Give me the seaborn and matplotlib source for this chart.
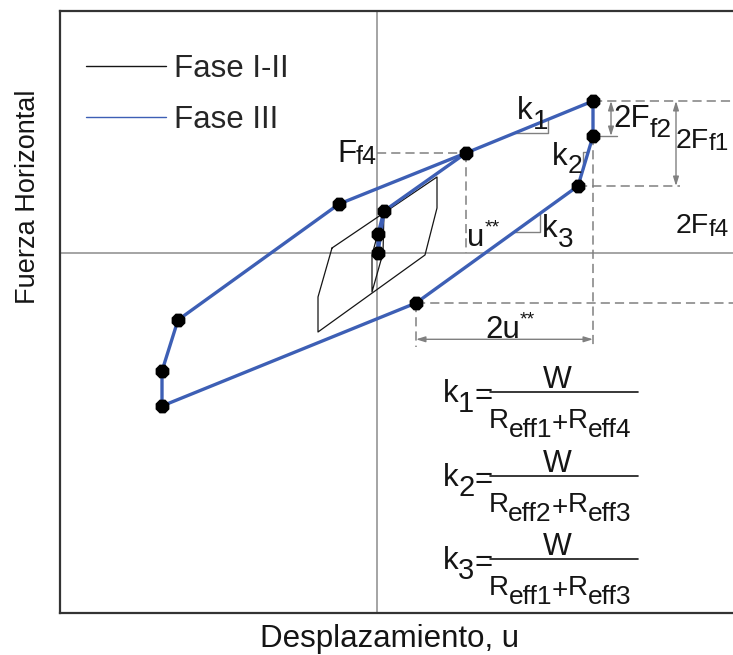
import matplotlib
matplotlib.use("Agg")
import matplotlib.pyplot as plt
import matplotlib.transforms as mtransforms
from matplotlib.lines import Line2D
import seaborn as sns

# ---- data: hysteresis loops (displacement u, horizontal force F) ----
# Phase III loop, vertices in drawing order (closed)
fase3_u = [2.16, 2.16, 2.01, 0.39, -2.15, -2.15, -1.99, -0.38, 0.89, 2.16]
fase3_F = [1.52, 1.17, 0.67, -0.50, -1.53, -1.18, -0.67, 0.49, 1.00, 1.52]
# Phase III inner branch from the F_f4 point towards the origin
fase3_in_u = [0.89, 0.07, 0.01, 0.01, 0.07]
fase3_in_F = [1.00, 0.42, 0.19, 0.00, 0.42]
# Phase I-II loops
fase12_u = [-0.45, 0.60, 0.60, 0.48, -0.59, -0.59, -0.45]
fase12_F = [0.05, 0.76, 0.45, -0.02, -0.79, -0.44, 0.05]
fase12_in_u = [0.07, 0.06, -0.05, -0.05, 0.07]
fase12_in_F = [0.42, 0.00, -0.39, -0.02, 0.42]

legend_labels = ["Fase I-II", "Fase III"]
k_subs = ["1", "2", "3"]
denom_a = ["eff1", "eff2", "eff1"]
denom_b = ["eff4", "eff3", "eff3"]

BLUE = "#3d5fb5"
GRAY = "#808080"
DARK = "#151515"
FS = 22.5

sns.set_theme(style="white")
plt.rcParams["font.family"] = ["Liberation Sans", "DejaVu Sans"]

fig = plt.figure(figsize=(7.33, 6.55), dpi=100)
ax = fig.add_axes([60 / 733, 42 / 655, 685 / 733, 602 / 655])
ax.set_xlim(-3.17, 3.68)
ax.set_ylim(-3.60, 2.42)
ax.set_xticks([])
ax.set_yticks([])
for sp in ax.spines.values():
    sp.set_color("#333333")
    sp.set_linewidth(1.6)

# coordinate axes
ax.axhline(0, color="#8c8c8c", lw=1.1, zorder=1)
ax.axvline(0, color="#8c8c8c", lw=1.1, zorder=1)

DASH = dict(color=GRAY, lw=1.1, ls=(0, (6, 3.3)), zorder=2)
THIN = dict(color=GRAY, lw=1.0, zorder=2)

uA, FA = fase3_u[0], fase3_F[0]
uB, FB = fase3_u[1], fase3_F[1]
uC, FC = fase3_u[2], fase3_F[2]
uD, FD = fase3_u[3], fase3_F[3]
uI, FI = fase3_u[8], fase3_F[8]
xr = ax.get_xlim()[1]
dim_F = -0.863

# reference (dashed) lines
ax.plot([uA, xr], [FA, FA], **DASH)
ax.plot([uC, 3.03], [FC, FC], **DASH)
ax.plot([uD, xr], [FD, FD], **DASH)
ax.plot([uB, uB], [FB, dim_F - 0.08], **DASH)
ax.plot([uD, uD], [FD, dim_F - 0.08], **DASH)
ax.plot([0, uI], [FI, FI], **DASH)
ax.plot([uI, uI], [FI, 0], **DASH)
ax.plot([uB, 2.40], [FB, FB], **THIN)

# dimension lines with arrowheads
def dim(p0, p1):
    ax.annotate("", xy=p1, xytext=p0,
                arrowprops=dict(arrowstyle="<|-|>,head_length=0.45,head_width=0.14",
                                color=GRAY, lw=1.0, shrinkA=0, shrinkB=0), zorder=2)

dim((uD, dim_F), (uB, dim_F))
dim((2.34, FA), (2.34, FB))
dim((2.99, FA), (2.99, FC))

# slope triangles
def slope_tri(p0, p1, u_v, F_h):
    s = (p1[1] - p0[1]) / (p1[0] - p0[0])
    u_h = p0[0] + (F_h - p0[1]) / s
    F_v = p0[1] + (u_v - p0[0]) * s
    ax.plot([u_h, u_v, u_v], [F_h, F_h, F_v], **THIN)

slope_tri((uI, FI), (uA, FA), 1.71, 1.20)
slope_tri((uC, FC), (uB, FB), 2.06, 1.01)
slope_tri((uD, FD), (uC, FC), 1.63, 0.21)

# loops
sns.lineplot(x=fase12_u, y=fase12_F, sort=False, estimator=None, color=DARK, lw=0.9, ax=ax, zorder=3)
sns.lineplot(x=fase12_in_u, y=fase12_in_F, sort=False, estimator=None, color=DARK, lw=0.9, ax=ax, zorder=3)
sns.lineplot(x=fase3_u, y=fase3_F, sort=False, estimator=None, color=BLUE, lw=2.4, ax=ax, zorder=4)
sns.lineplot(x=fase3_in_u, y=fase3_in_F, sort=False, estimator=None, color=BLUE, lw=2.4, ax=ax, zorder=4)
sns.scatterplot(x=fase3_u[:-1] + fase3_in_u[1:4], y=fase3_F[:-1] + fase3_in_F[1:4],
                marker="8", s=115, color="black", edgecolor="black", linewidth=0, ax=ax, zorder=5)

handles = [Line2D([], [], color=DARK, lw=1.0), Line2D([], [], color=BLUE, lw=1.0)]
ax.legend(handles, legend_labels, loc="upper left", bbox_to_anchor=(86 / 733, 1 - 54 / 655),
          bbox_transform=fig.transFigure, frameon=False, fontsize=FS, handlelength=2.55,
          handletextpad=0.28, labelspacing=0.66, borderpad=0, borderaxespad=0)

# text built from runs: (string, size in pt, baseline shift in pt)
renderer = fig.canvas.get_renderer()

def runs_text(x, y, runs, ha="left"):
    widths = []
    for s, size, _ in runs:
        t = ax.text(0, 0, s, fontsize=size)
        widths.append(t.get_window_extent(renderer).width * 72 / fig.dpi)
        t.remove()
    off = {"left": 0, "center": -sum(widths) / 2, "right": -sum(widths)}[ha]
    for (s, size, dy), w in zip(runs, widths):
        tr = ax.transData + mtransforms.ScaledTranslation(off / 72, dy / 72, fig.dpi_scale_trans)
        ax.text(x, y, s, fontsize=size, transform=tr, ha="left", va="baseline",
                color=DARK, zorder=6)
        off += w

runs_text(-0.40, 0.91, [("F", FS, 0), ("f4", 18, -1.5)])
runs_text(0.90, 0.07, [("u", FS, 0), ("**", 14, 10)])
runs_text(1.33, -0.85, [("2u", FS, 0), ("**", 14, 10)], ha="center")
runs_text(1.40, 1.34, [("k", FS, 0), ("1", 20, -7)])
runs_text(1.75, 0.88, [("k", FS, 0), ("2", 19, -6)])
runs_text(1.65, 0.16, [("k", FS, 0), ("3", 20, -7)])
runs_text(2.36, 1.26, [("2F", FS, 0), ("f2", 19, -7)])
runs_text(2.985, 1.05, [("2F", 20.5, 0), ("f1", 17.5, -1.5)])
runs_text(2.985, 0.20, [("2F", 20.5, 0), ("f4", 17.5, -2.5)])

# stiffness formulas
bar_F = [-1.39, -2.23, -3.06]
for sub, da, db, fb in zip(k_subs, denom_a, denom_b, bar_F):
    ax.plot([1.13, 2.61], [fb, fb], color=DARK, lw=1.2, zorder=6)
    runs_text(0.655, fb - 0.10, [("k", FS, 0), (sub, 21, -7), ("=", FS, -1.5)])
    runs_text(1.80, fb + 0.04, [("W", 22, 0)], ha="center")
    runs_text(1.83, fb - 0.36, [("R", 20, 0), (da, 19, -6.5), ("+", 20, -2.5),
                                ("R", 20, 0), (db, 19, -6.5)], ha="center")

fig.text(389 / 733, 1 - 647 / 655, "Desplazamiento, u", fontsize=FS, ha="center",
         va="baseline", color=DARK)
fig.text(28 / 733, 1 - 197 / 655, "Fuerza Horizontal", fontsize=19.5, rotation=90,
         ha="center", va="center", color=DARK)

fig.savefig("out.png", dpi=100)
